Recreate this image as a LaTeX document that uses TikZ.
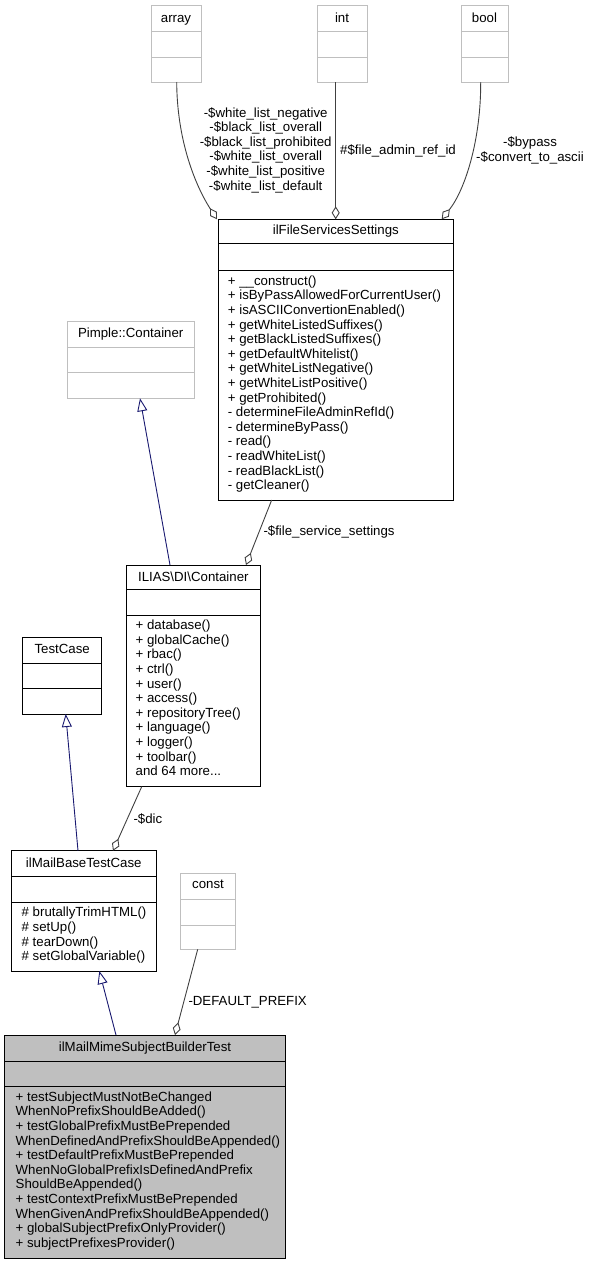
\documentclass[tikz,border=0pt]{standalone}
\usepackage{fontspec}
\setmainfont{Liberation Sans}
\usetikzlibrary{arrows.meta,calc}
\definecolor{boxgray}{HTML}{BFBFBF}
\definecolor{lgray}{HTML}{404040}
\definecolor{navy}{HTML}{191970}
\definecolor{fillgray}{HTML}{BFBFBF}
\tikzset{
 cls/.style={draw=black, line width=1pt, anchor=north west, inner sep=0pt, outer sep=0pt},
 grayc/.style={cls, draw=boxgray},
 sepl/.style={draw=black, line width=1pt},
 sepg/.style={draw=boxgray, line width=1pt},
 ttl/.style={anchor=base, inner sep=0pt},
 mth/.style={anchor=north west, inner sep=0pt, align=left, execute at begin node=\strut},
 lbl/.style={inner sep=0pt},
 mlbl/.style={inner sep=0pt, anchor=north, align=center, execute at begin node=\strut},
 assoc/.style={draw=lgray, line width=0.9pt, -{Diamond[open,length=13pt,width=8pt]}},
 inh/.style={draw=navy, line width=0.9pt, -{Triangle[open,length=13pt,width=10pt]}},
}
\begin{document}
\begin{tikzpicture}[x=1pt,y=-1pt,font=\fontsize{13.25}{14.6}\selectfont]
\useasboundingbox (0,0) rectangle (589,1264);

% array
\node[grayc, minimum width=50pt, minimum height=77pt] (array) at (151,5) {};
\draw[sepg] (151,31) -- (201,31);
\draw[sepg] (151,57) -- (201,57);
\node[ttl] (array-t) at (176,22.3) {array};

% int
\node[grayc, minimum width=50pt, minimum height=77pt] (int) at (317,5) {};
\draw[sepg] (317,31) -- (367,31);
\draw[sepg] (317,57) -- (367,57);
\node[ttl] (int-t) at (342,22.3) {int};

% bool
\node[grayc, minimum width=47pt, minimum height=77pt] (bool) at (461,5) {};
\draw[sepg] (461,31) -- (508,31);
\draw[sepg] (461,57) -- (508,57);
\node[ttl] (bool-t) at (484.5,22.3) {bool};

% ilFileServicesSettings
\node[cls, minimum width=235pt, minimum height=280.7pt] (fss) at (218.3,219.3) {};
\draw[sepl] (218.3,243.3) -- (453.3,243.3);
\draw[sepl] (218.3,270) -- (453.3,270);
\node[ttl] (fss-t) at (335.8,234.7) {ilFileServicesSettings};
\node[mth] (fss-m) at (227.7,275.5) {+ \_\_construct()\\
+ isByPassAllowedForCurrentUser()\\
+ isASCIIConvertionEnabled()\\
+ getWhiteListedSuffixes()\\
+ getBlackListedSuffixes()\\
+ getDefaultWhitelist()\\
+ getWhiteListNegative()\\
+ getWhiteListPositive()\\
+ getProhibited()\\
- determineFileAdminRefId()\\
- determineByPass()\\
- read()\\
- readWhiteList()\\
- readBlackList()\\
- getCleaner()};

% Pimple::Container
\node[grayc, minimum width=126.7pt, minimum height=76.6pt] (pimple) at (67.3,321.7) {};
\draw[sepg] (67.3,347) -- (194,347);
\draw[sepg] (67.3,372.7) -- (194,372.7);
\node[ttl] (pimple-t) at (130.7,337.3) {Pimple::Container};

% ILIAS\DI\Container
\node[cls, minimum width=133.3pt, minimum height=221.7pt] (ilias) at (126.7,565) {};
\draw[sepl] (126.7,589.3) -- (260,589.3);
\draw[sepl] (126.7,615.7) -- (260,615.7);
\node[ttl] (ilias-t) at (193.3,581.3) {ILIAS\textbackslash DI\textbackslash Container};
\node[mth] (ilias-m) at (135.5,619.8) {+ database()\\
+ globalCache()\\
+ rbac()\\
+ ctrl()\\
+ user()\\
+ access()\\
+ repositoryTree()\\
+ language()\\
+ logger()\\
+ toolbar()\\
and 64 more...};

% TestCase
\node[cls, minimum width=79pt, minimum height=76.3pt] (testcase) at (22.7,637.7) {};
\draw[sepl] (22.7,663.3) -- (101.7,663.3);
\draw[sepl] (22.7,688.7) -- (101.7,688.7);
\node[ttl] (testcase-t) at (62.2,653.3) {TestCase};

% ilMailBaseTestCase
\node[cls, minimum width=145.7pt, minimum height=120.3pt] (base) at (11,850.7) {};
\draw[sepl] (11,876.7) -- (156.7,876.7);
\draw[sepl] (11,902.3) -- (156.7,902.3);
\node[ttl] (base-t) at (83.8,867.3) {ilMailBaseTestCase};
\node[mth] (base-m) at (21.5,907.1) {\# brutallyTrimHTML()\\
\# setUp()\\
\# tearDown()\\
\# setGlobalVariable()};

% const
\node[grayc, minimum width=54.6pt, minimum height=76pt] (const) at (180.7,873.3) {};
\draw[sepg] (180.7,899) -- (235.3,899);
\draw[sepg] (180.7,925) -- (235.3,925);
\node[ttl] (const-t) at (208,888.3) {const};

% ilMailMimeSubjectBuilderTest
\node[cls, fill=fillgray, minimum width=281.4pt, minimum height=223.3pt] (mime) at (4.3,1035) {};
\draw[sepl] (4.3,1061) -- (285.7,1061);
\draw[sepl] (4.3,1086) -- (285.7,1086);
\node[ttl] (mime-t) at (145,1051.3) {ilMailMimeSubjectBuilderTest};
\node[mth] (mime-m) at (15.5,1091.5) {+ testSubjectMustNotBeChanged\\
WhenNoPrefixShouldBeAdded()\\
+ testGlobalPrefixMustBePrepended\\
WhenDefinedAndPrefixShouldBeAppended()\\
+ testDefaultPrefixMustBePrepended\\
WhenNoGlobalPrefixIsDefinedAndPrefix\\
ShouldBeAppended()\\
+ testContextPrefixMustBePrepended\\
WhenGivenAndPrefixShouldBeAppended()\\
+ globalSubjectPrefixOnlyProvider()\\
+ subjectPrefixesProvider()};

% associations
\draw[assoc] ($(array.south)+(0.7,0)$) .. controls (177,140) and (195,185) .. ($(fss.north west)+(-1.3,0)$);
\draw[assoc] ($(int.south)+(-6.3,0)$) -- ($(fss.north west)+(117.4,0)$);
\draw[assoc] ($(bool.south)+(-3.8,0)$) .. controls (481,140) and (465,190) .. ($(fss.north east)+(-11.6,0)$);
\draw[assoc] ($(fss.south west)+(53.4,0)$) -- ($(ilias.north west)+(119.3,0)$);
\draw[assoc] ($(ilias.south west)+(15,0)$) -- ($(base.north west)+(102,0)$);
\draw[assoc] ($(const.south west)+(17,0)$) -- ($(mime.north west)+(170.7,0)$);

% inheritance
\draw[inh] ($(ilias.north west)+(43.3,0)$) -- ($(pimple.south west)+(72.7,0)$);
\draw[inh] ($(base.north west)+(67,0)$) -- ($(testcase.south west)+(43,0)$);
\draw[inh] ($(mime.north west)+(111.7,0)$) -- ($(base.south west)+(88.3,0)$);

% labels
\node[mlbl] (l-array) at (265.7,107.1) {-\$white\_list\_negative\\
-\$black\_list\_overall\\
-\$black\_list\_prohibited\\
-\$white\_list\_overall\\
-\$white\_list\_positive\\
-\$white\_list\_default};
\node[lbl, anchor=base west] (l-int) at (340,154) {\#\$file\_admin\_ref\_id};
\node[mlbl] (l-bool) at (530,136.5) {-\$bypass\\
-\$convert\_to\_ascii};
\node[lbl, anchor=base west] (l-fss) at (263.3,535.7) {-\$file\_service\_settings};
\node[lbl, anchor=base west] (l-dic) at (133.3,823) {-\$dic};
\node[lbl, anchor=base west] (l-const) at (188.3,1005.7) {-DEFAULT\_PREFIX};
\end{tikzpicture}
\end{document}
